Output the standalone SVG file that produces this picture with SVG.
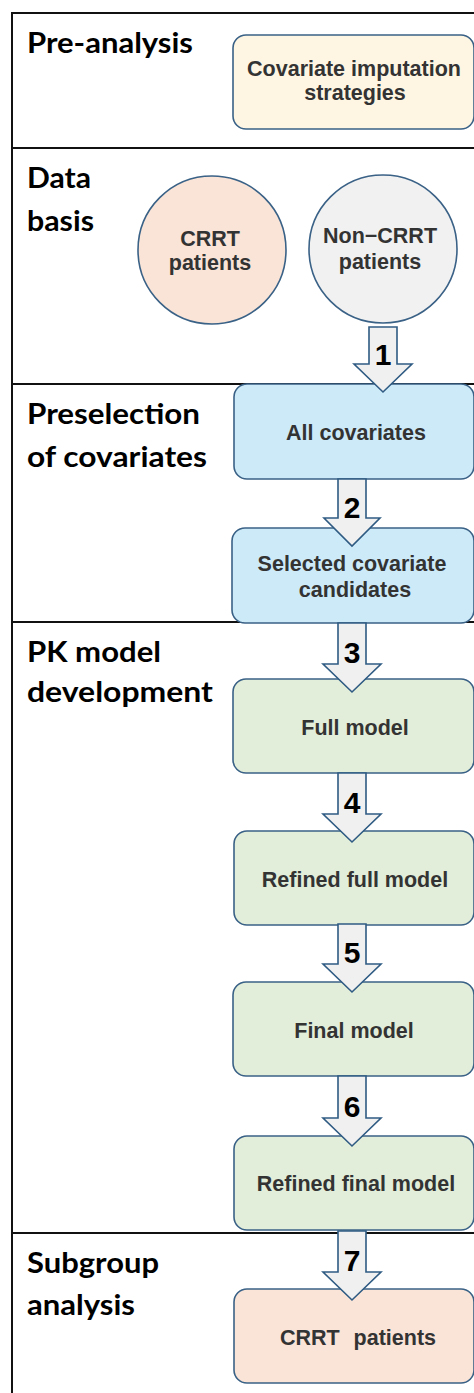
<svg xmlns="http://www.w3.org/2000/svg" width="474" height="1393" viewBox="0 0 474 1393">
<style>
.sec{font-family:Lato,"Open Sans",sans-serif;font-weight:bold;font-size:29px;fill:#000}
.lbl{font-family:"Liberation Sans",Arial,sans-serif;font-weight:bold;font-size:21.5px;fill:#333;text-anchor:middle}
.num{font-family:"Liberation Sans",Arial,sans-serif;font-weight:bold;font-size:30px;fill:#000;text-anchor:middle}
.box{stroke:#3a6186;stroke-width:1.6}
.arr{fill:#f0f0f0;stroke:#2f5b83;stroke-width:1.6;stroke-linejoin:miter}
.frame{stroke:#111;stroke-width:2;fill:none}
</style>
<rect width="474" height="1393" fill="#fff"/>
<g id="frame">
<path class="frame" d="M12,1393 V13 H474"/>
<line class="frame" x1="12" y1="148" x2="474" y2="148"/>
<line class="frame" x1="12" y1="384" x2="474" y2="384"/>
<line class="frame" x1="12" y1="622" x2="474" y2="622"/>
<line class="frame" x1="12" y1="1233" x2="474" y2="1233"/>
</g>
<g id="sections">
<text class="sec" x="27" y="53" textLength="166" lengthAdjust="spacingAndGlyphs">Pre-analysis</text>
<text class="sec" x="27" y="188" textLength="64" lengthAdjust="spacingAndGlyphs">Data</text>
<text class="sec" x="27" y="231" textLength="67" lengthAdjust="spacingAndGlyphs">basis</text>
<text class="sec" x="27" y="424" textLength="173" lengthAdjust="spacingAndGlyphs">Preselection</text>
<text class="sec" x="27" y="467" textLength="180" lengthAdjust="spacingAndGlyphs">of covariates</text>
<text class="sec" x="27" y="662" textLength="134" lengthAdjust="spacingAndGlyphs">PK model</text>
<text class="sec" x="27" y="702" textLength="186" lengthAdjust="spacingAndGlyphs">development</text>
<text class="sec" x="27" y="1273" textLength="132" lengthAdjust="spacingAndGlyphs">Subgroup</text>
<text class="sec" x="27" y="1315" textLength="108" lengthAdjust="spacingAndGlyphs">analysis</text>
</g>
<g id="imputation">
<rect class="box" x="233" y="35" width="241" height="94" rx="13" fill="#fef6e3"/>
<text class="lbl" x="354" y="76">Covariate imputation</text>
<text class="lbl" x="355" y="100">strategies</text>
</g>
<g id="crrt-circle">
<circle class="box" cx="212" cy="250" r="74" fill="#f9e4d7"/>
<text class="lbl" x="210" y="246">CRRT</text>
<text class="lbl" x="210" y="270">patients</text>
</g>
<g id="noncrrt-circle">
<circle class="box" cx="383" cy="249" r="74" fill="#f1f1f1"/>
<text class="lbl" x="380" y="243">Non−CRRT</text>
<text class="lbl" x="380" y="269">patients</text>
</g>
<g id="all-covariates">
<rect class="box" x="234" y="384" width="240" height="95" rx="13" fill="#cdeaf9"/>
<text class="lbl" x="356" y="440">All covariates</text>
</g>
<g id="selected">
<rect class="box" x="232" y="528" width="242" height="95" rx="13" fill="#cdeaf9"/>
<text class="lbl" x="352" y="571">Selected covariate</text>
<text class="lbl" x="355" y="597">candidates</text>
</g>
<g id="full-model">
<rect class="box" x="233" y="679" width="241" height="94" rx="13" fill="#e2eed9"/>
<text class="lbl" x="355" y="735">Full model</text>
</g>
<g id="refined-full">
<rect class="box" x="234" y="831" width="240" height="94" rx="13" fill="#e2eed9"/>
<text class="lbl" x="355" y="887">Refined full model</text>
</g>
<g id="final-model">
<rect class="box" x="233" y="982" width="241" height="94" rx="13" fill="#e2eed9"/>
<text class="lbl" x="354" y="1038">Final model</text>
</g>
<g id="refined-final">
<rect class="box" x="234" y="1136" width="240" height="94" rx="13" fill="#e2eed9"/>
<text class="lbl" x="356" y="1191">Refined final model</text>
</g>
<g id="crrt-subgroup">
<rect class="box" x="234" y="1289" width="240" height="94" rx="13" fill="#fae4d7"/>
<text class="lbl" x="358" y="1345" word-spacing="8">CRRT patients</text>
</g>
<g id="connectors">
<path class="arr" d="M369,327 H397 V364 H412 L383,392 L354,364 H369 Z"/>
<text class="num" x="383" y="365">1</text>
<path class="arr" d="M338,479 H366 V518 H380 L352,546 L324,518 H338 Z"/>
<text class="num" x="352" y="518">2</text>
<path class="arr" d="M338,623 H366 V664 H381 L352,692 L323,664 H338 Z"/>
<text class="num" x="352" y="663">3</text>
<path class="arr" d="M338,773 H366 V814 H381 L352,842 L323,814 H338 Z"/>
<text class="num" x="352" y="813">4</text>
<path class="arr" d="M338,924 H366 V964 H381 L352,992 L323,964 H338 Z"/>
<text class="num" x="352" y="963">5</text>
<path class="arr" d="M338,1076 H366 V1118 H381 L352,1146 L323,1118 H338 Z"/>
<text class="num" x="352" y="1117">6</text>
<path class="arr" d="M338,1231 H366 V1272 H381 L352,1300 L323,1272 H338 Z"/>
<text class="num" x="352" y="1271">7</text>
</g>
</svg>
